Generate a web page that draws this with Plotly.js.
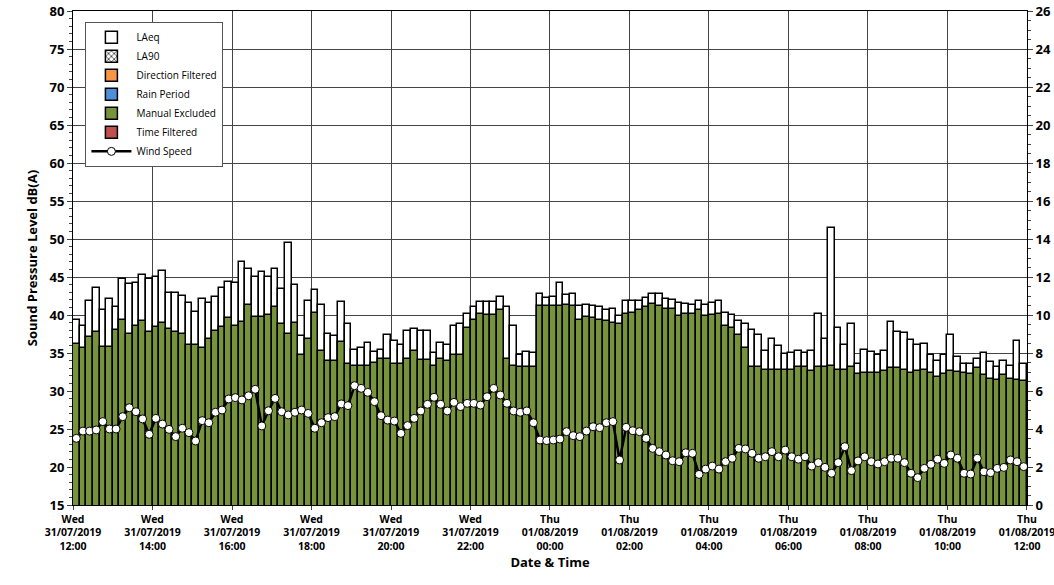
<!DOCTYPE html>
<html>
<head>
<script src="https://cdn.plot.ly/plotly-3.0.1.min.js"></script>
<style>body{margin:0;background:#fff}</style>
</head>
<body>
<div id="chart" style="width:1054px;height:585px"></div>
<script>
// 10-minute intervals from Wed 31/07/2019 12:00
var laeq = [39.3,38.5,41.9,43.5,40.7,42.1,41.0,44.7,44.1,44.2,45.2,44.7,45.0,45.8,42.9,42.9,42.5,41.6,40.4,42.1,41.6,42.4,43.6,44.3,44.2,47.0,46.1,45.0,45.6,45.0,46.0,43.4,49.5,44.0,37.2,41.9,
  43.3,41.3,37.5,37.3,41.7,38.8,35.4,35.6,36.3,35.1,35.4,37.4,36.6,36.0,37.9,38.2,37.9,37.9,35.0,36.3,36.0,38.5,38.8,40.1,41.0,41.7,41.7,41.7,42.4,41.0,38.5,34.8,35.1,35.0,42.8,42.3,42.4,44.2,
  42.6,42.8,41.2,41.3,41.2,41.0,40.7,40.8,39.9,41.8,41.8,41.8,42.3,42.8,42.8,42.1,42.0,41.6,41.4,41.3,41.8,41.3,41.6,41.8,40.3,40.0,39.2,38.8,38.0,37.4,35.2,36.8,35.9,34.9,35.0,
  35.3,35.0,35.2,40.1,36.8,51.4,38.3,36.0,38.8,33.6,35.4,35.1,34.7,35.3,39.1,37.8,37.6,36.7,36.1,36.2,34.7,33.9,34.7,37.4,34.5,33.6,33.5,34.2,35.0,33.8,33.1,33.9,33.3,36.6,33.6];
var manual = [36.2,35.6,37.1,37.8,35.8,35.8,38.0,39.3,37.5,38.6,39.2,37.7,38.4,39.0,38.1,37.7,37.5,36.1,36.1,35.6,36.9,37.9,38.4,39.6,38.5,39.1,41.3,39.7,39.8,40.0,41.1,38.8,37.5,39.0,34.7,36.9,
  40.3,35.2,34.0,34.0,36.4,33.5,33.3,33.3,33.3,33.7,34.2,34.2,33.6,33.6,34.2,35.2,34.1,34.1,33.3,34.2,33.9,34.7,34.7,38.3,39.3,40.1,40.0,40.0,40.7,34.2,33.3,33.2,33.2,33.2,41.2,41.2,41.2,41.2,
  41.3,41.2,39.3,39.7,39.6,39.4,39.2,39.0,38.8,40.1,40.3,40.7,41.0,41.4,41.2,40.8,40.8,39.9,40.1,40.1,40.6,39.9,40.0,40.1,38.5,38.3,37.4,35.6,33.2,33.1,32.7,32.8,32.8,32.8,32.8,
  33.1,33.1,32.6,33.1,33.2,33.3,32.8,32.8,33.1,32.2,32.4,32.4,32.4,32.6,33.0,33.0,32.8,32.4,32.6,32.7,32.4,31.9,32.2,32.6,32.5,32.4,32.3,33.0,32.1,31.6,31.4,32.1,31.6,31.5,31.3];
var wind = [3.51,3.89,3.89,3.95,4.39,4.0,4.0,4.65,5.12,4.91,4.53,3.72,4.56,4.26,3.98,3.6,4.04,3.81,3.37,4.44,4.33,4.88,5.0,5.58,5.65,5.53,5.75,6.09,4.16,4.96,5.61,4.91,4.74,4.88,5.0,4.82,
  4.04,4.33,4.6,4.65,5.32,5.23,6.28,6.14,5.93,5.44,4.7,4.47,4.42,3.77,4.18,4.56,4.95,5.3,5.67,5.3,4.95,5.4,5.18,5.35,5.35,5.26,5.7,6.14,5.79,5.35,4.95,4.88,4.95,4.33,3.42,3.39,3.42,3.47,
  3.86,3.65,3.6,3.89,4.12,4.07,4.33,4.39,2.37,4.09,3.91,3.86,3.51,2.98,2.81,2.63,2.33,2.28,2.75,2.72,1.61,1.89,2.05,1.89,2.28,2.46,2.98,2.95,2.72,2.46,2.54,2.81,2.54,2.89,2.54,
  2.41,2.54,2.05,2.23,1.98,1.67,2.23,3.07,1.81,2.32,2.54,2.28,2.16,2.28,2.46,2.46,2.23,1.67,1.44,1.93,2.14,2.41,2.19,2.63,2.46,1.67,1.63,2.46,1.75,1.70,1.93,1.98,2.37,2.28,2.02];
var tickTimes = ['2019-07-31 12:00','2019-07-31 14:00','2019-07-31 16:00','2019-07-31 18:00','2019-07-31 20:00','2019-07-31 22:00',
  '2019-08-01 00:00','2019-08-01 02:00','2019-08-01 04:00','2019-08-01 06:00','2019-08-01 08:00','2019-08-01 10:00','2019-08-01 12:00'];
var tickLabels = ['Wed<br>31/07/2019<br>12:00','Wed<br>31/07/2019<br>14:00','Wed<br>31/07/2019<br>16:00','Wed<br>31/07/2019<br>18:00',
  'Wed<br>31/07/2019<br>20:00','Wed<br>31/07/2019<br>22:00','Thu<br>01/08/2019<br>00:00','Thu<br>01/08/2019<br>02:00',
  'Thu<br>01/08/2019<br>04:00','Thu<br>01/08/2019<br>06:00','Thu<br>01/08/2019<br>08:00','Thu<br>01/08/2019<br>10:00','Thu<br>01/08/2019<br>12:00'];

var start = Date.UTC(2019, 6, 31, 12, 5);
var times = laeq.map(function (v, i) {
    return new Date(start + i * 600000).toISOString().replace('T', ' ').slice(0, 16);
});
var w = 600000;
var font = {family: 'Open Sans, DejaVu Sans, sans-serif', color: '#000'};
var outline = {color: '#000', width: 1.5};
// legend-only series (no data in this period)
function emptyBar(name, marker) {
    return {x: [times[0]], y: [null], type: 'bar', name: name, marker: marker, hoverinfo: 'skip'};
}

var data = [
    {x: times, y: laeq, base: 0, width: w, type: 'bar', name: 'LAeq',
     marker: {color: '#fff', line: outline}},
    emptyBar('LA90', {color: '#fff', pattern: {shape: 'x', fgcolor: '#000', size: 5}, line: outline}),
    emptyBar('Direction Filtered', {color: '#f79646', line: outline}),
    emptyBar('Rain Period', {color: '#4f8fd8', line: outline}),
    {x: times, y: manual, base: 0, width: w, type: 'bar', name: 'Manual Excluded',
     marker: {color: '#77933c', line: outline}},
    emptyBar('Time Filtered', {color: '#c0504d', line: outline}),
    {x: times, y: wind, yaxis: 'y2', type: 'scatter', mode: 'lines+markers', name: 'Wind Speed',
     line: {color: '#000', width: 2.5},
     marker: {color: '#fff', size: 8, line: {color: '#000', width: 1}}}
];

var layout = {
    width: 1054, height: 585,
    margin: {l: 73, r: 27, t: 11, b: 80},
    barmode: 'overlay', bargap: 0,
    showlegend: true,
    legend: {x: 0.013, y: 0.978, xanchor: 'left', yanchor: 'top', bgcolor: '#fff',
             bordercolor: '#555', borderwidth: 1, font: {family: font.family, size: 10, color: '#000'},
             tracegroupgap: 0, itemwidth: 40},
    font: font,
    plot_bgcolor: '#fff',
    xaxis: {type: 'date', range: ['2019-07-31 12:00', '2019-08-01 12:00:01'],
            tickvals: tickTimes, ticktext: tickLabels, tickangle: 0, ticklabeloverflow: 'allow',
            tickfont: {family: font.family, size: 10.5, color: '#000', weight: 'bold'},
            showgrid: true, gridcolor: '#444', gridwidth: 1,
            showline: true, linecolor: '#000', mirror: true, ticks: 'outside', ticklen: 4,
            title: {text: 'Date & Time', font: {size: 13, weight: 'bold'}, standoff: 2}},
    yaxis: {range: [15, 80], dtick: 5, showgrid: true, gridcolor: '#444', gridwidth: 1,
            tickfont: {size: 13, weight: 'bold'}, ticks: 'outside', ticklen: 5,
            minor: {dtick: 1, ticks: 'outside', ticklen: 3, showgrid: false},
            showline: true, linecolor: '#000', zeroline: false,
            title: {text: 'Sound Pressure Level dB(A)', font: {size: 13, weight: 'bold'}, standoff: 8}},
    yaxis2: {range: [0, 26], dtick: 2, overlaying: 'y', side: 'right', showgrid: false,
             tickfont: {size: 13, weight: 'bold'}, ticks: 'outside', ticklen: 5,
             minor: {dtick: 0.5, ticks: 'outside', ticklen: 3},
             showline: true, linecolor: '#000', zeroline: false}
};

Plotly.newPlot('chart', data, layout, {displayModeBar: false});
</script>
</body>
</html>
